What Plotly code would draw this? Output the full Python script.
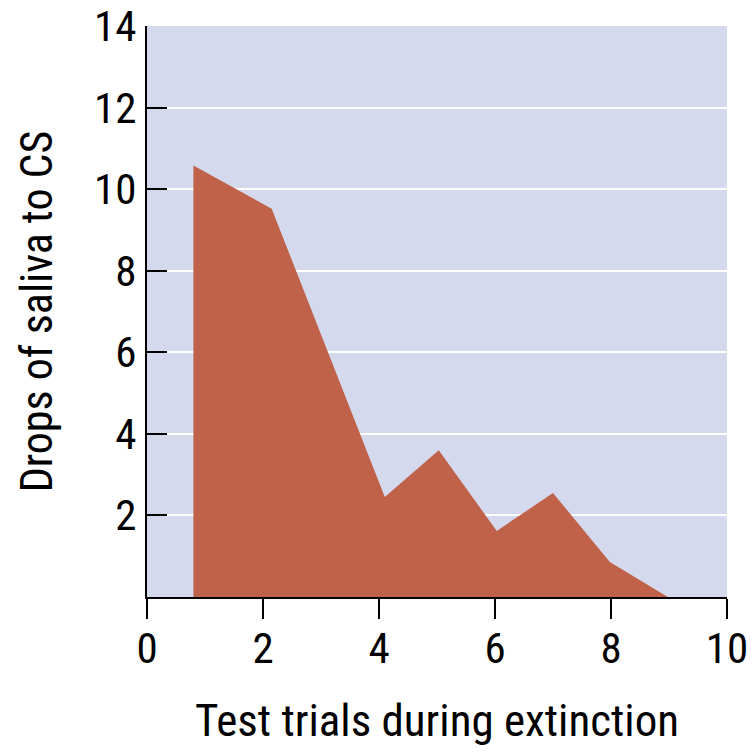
import plotly.graph_objects as go

trials = [0.8, 2.15, 4.1, 5.03, 6.03, 7.0, 7.98, 8.98]
drops = [10.58, 9.52, 2.45, 3.6, 1.62, 2.55, 0.86, 0.0]

x_ticks = [0, 2, 4, 6, 8, 10]
y_ticks = [2, 4, 6, 8, 10, 12, 14]

FONT = "Liberation Sans Narrow, Arial Narrow, Roboto Condensed, sans-serif"

fig = go.Figure()
fig.add_trace(go.Scatter(
    x=trials, y=drops, mode="lines", fill="tozeroy",
    fillcolor="rgb(192,98,74)", line=dict(width=0, color="rgb(192,98,74)"),
    hoverinfo="skip", showlegend=False,
))

fig.update_layout(
    width=753, height=753,
    margin=dict(l=147, r=26, t=26, b=156),
    paper_bgcolor="white",
    plot_bgcolor="rgb(213,217,238)",
    font=dict(family=FONT, color="black", size=43),
    xaxis=dict(
        range=[0, 10], tickvals=x_ticks, ticks="outside", ticklen=20, tickwidth=2,
        tickcolor="black", showline=True, linecolor="black", linewidth=2,
        showgrid=False, zeroline=False, tickfont=dict(size=43), automargin=False,
        ticklabelstandoff=-8,
        title=dict(text="Test trials during extinction", font=dict(size=45), standoff=33),
    ),
    yaxis=dict(
        range=[0, 14], tickvals=y_ticks, ticks="inside", ticklen=20, tickwidth=2,
        tickcolor="black", showline=True, linecolor="black", linewidth=2,
        showgrid=True, gridcolor="white", gridwidth=2, zeroline=False,
        tickfont=dict(size=43), automargin=False,
        title=dict(text="Drops of saliva to CS", font=dict(size=44), standoff=28),
    ),
)

fig.write_html("out.html", config={"displayModeBar": False},
               post_script="document.body.style.margin='0';")
